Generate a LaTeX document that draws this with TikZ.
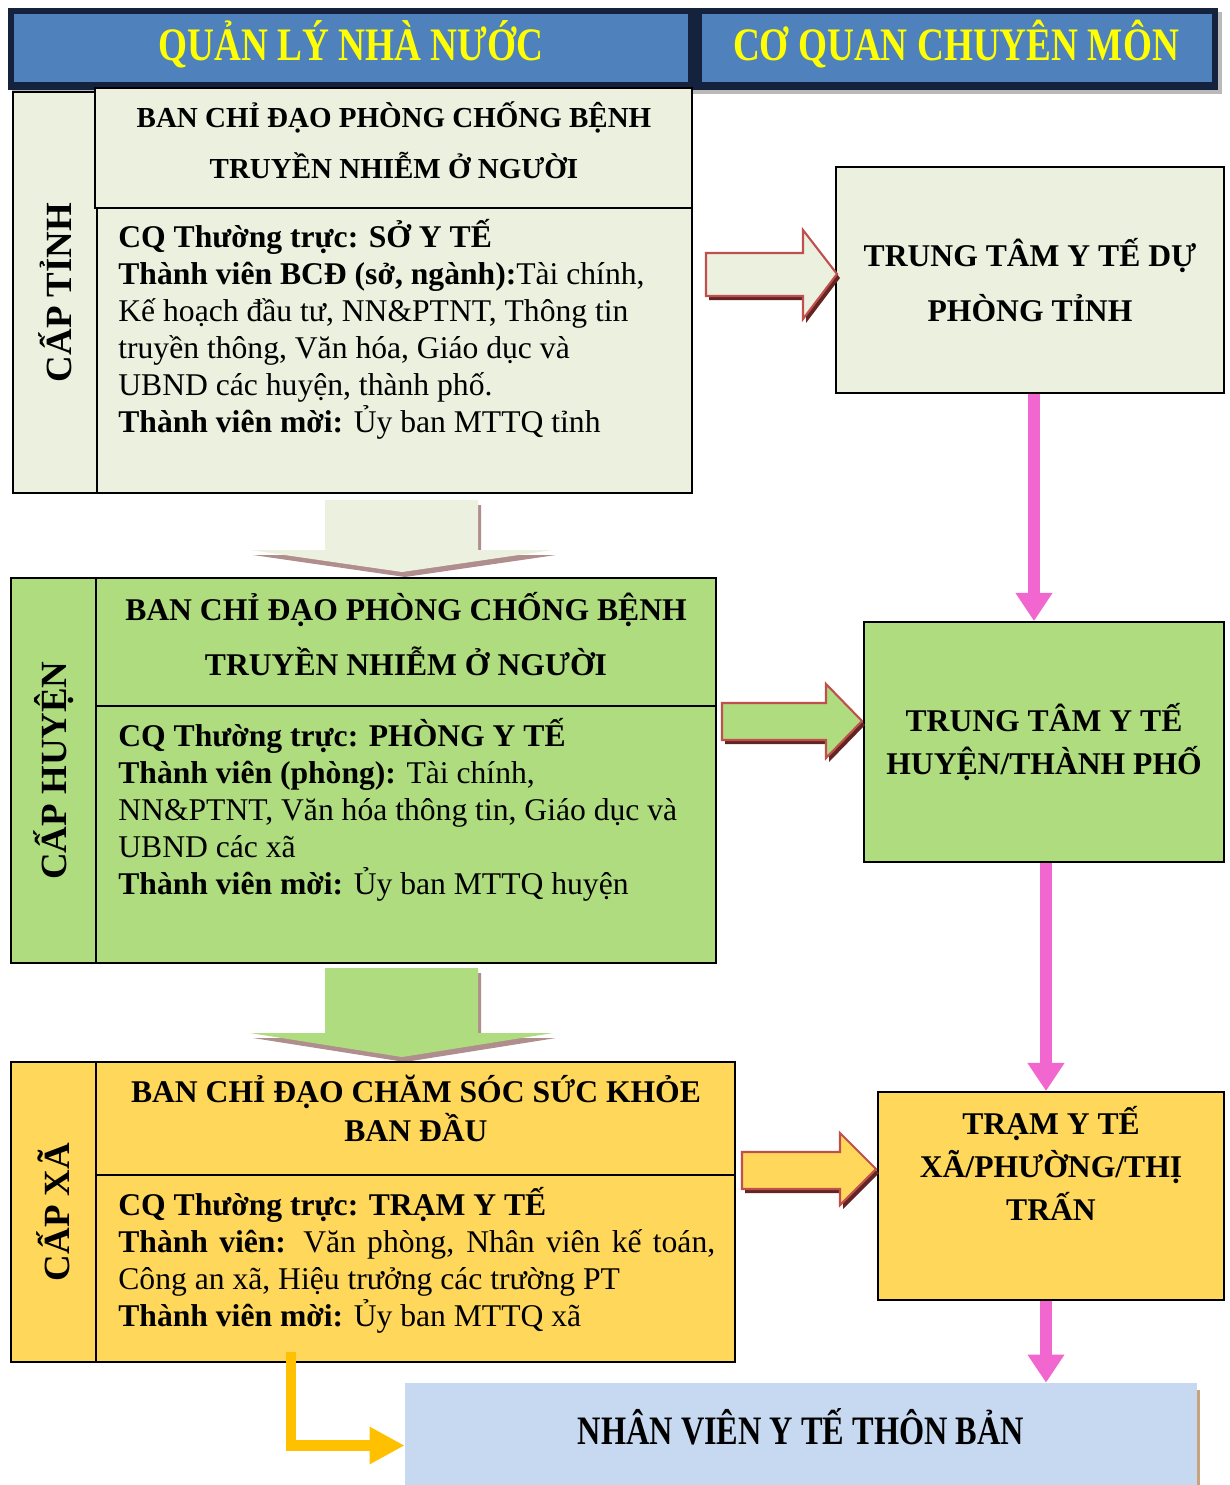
\documentclass[tikz,border=0pt]{standalone}
\usepackage{fontspec}
\setmainfont{Liberation Serif}
\usetikzlibrary{positioning,calc,arrows.meta}

\definecolor{navy}{HTML}{14223E}
\definecolor{hdblue}{HTML}{4F81BD}
\definecolor{hdyellow}{HTML}{FFFF00}
\definecolor{tinhgreen}{HTML}{EBF1DE}
\definecolor{huyengreen}{HTML}{AFDC7E}
\definecolor{xagold}{HTML}{FFD75B}
\definecolor{thonblue}{HTML}{C6D9F1}
\definecolor{pinkc}{HTML}{F266CF}
\definecolor{orangec}{HTML}{FFC000}
\definecolor{arrred}{HTML}{C0504D}
\definecolor{arrdark}{HTML}{632523}
\definecolor{downshadow}{HTML}{B08E8E}
\definecolor{tanshadow}{HTML}{C9A27E}

\newcommand{\narrow}[1]{\scalebox{0.8}[1]{#1}}

\begin{document}
\begin{tikzpicture}[
	x=0.02cm, y=-0.02cm,
	px/.style 2 args={minimum width=#1*0.02cm, minimum height=#2*0.02cm},
	box/.style={draw=black, line width=1.1pt, inner sep=0pt},
	lvl/.style={font=\bfseries\fontsize{21}{24}\selectfont, rotate=90, inner sep=0pt},
	ttl/.style 2 args={font=\bfseries\fontsize{#1}{#2}\selectfont, align=center, inner sep=0pt},
	body/.style={font=\fontsize{18}{21}\selectfont, align=left, anchor=north west, inner sep=0pt},
	unit/.style={font=\bfseries\fontsize{18}{#1}\selectfont, align=center, inner sep=0pt},
	head/.style={font=\bfseries\fontsize{26.5}{30}\selectfont, text=hdyellow, inner sep=0pt},
	blockarr/.style={draw=arrred, line width=1.2pt, line join=miter},
	pinkarr/.style={draw=pinkc, line width=6.8pt, -{Triangle[width=20pt,length=16pt]}},
	orangearr/.style={draw=orangec, line width=6.2pt, -{Triangle[width=20pt,length=20pt]}}
]
\useasboundingbox (0,0) rectangle (1230,1485);
\clip (0,0) rectangle (1230,1485);

% header
\fill[gray!55] (12,12) rectangle (1222,94);
\node[fill=navy, inner sep=0pt, px={1210}{82}] (hdbar) at (613,49) {};
\node[fill=hdblue, inner sep=0pt, px={674}{68}] (hdQL) at (351,48) {};
\node[fill=hdblue, inner sep=0pt, px={510}{68}] (hdCM) at (957,48) {};
\node[head] (hdQLtxt) at (351,44) {\narrow{QUẢN LÝ NHÀ NƯỚC}};
\node[head] (hdCMtxt) at (956,44) {\narrow{CƠ QUAN CHUYÊN MÔN}};

% cap tinh
\node[box, fill=tinhgreen, px={84}{401}] (lvT) at (55,292.5) {};
\node[lvl] (lvTtxt) at (lvT.center) {CẤP TỈNH};
\node[box, fill=tinhgreen, px={597}{120}] (banT) at (393.5,148) {};
\node[box, fill=tinhgreen, px={595}{285}] (cqT) at (394.5,350.5) {};
\node[ttl={16.5}{29}] (banTtxt) at (394,140) {BAN CHỈ ĐẠO PHÒNG CHỐNG BỆNH\\TRUYỀN NHIỄM Ở NGƯỜI};
\node[body] (cqTtxt) at (118,219) {\textbf{CQ Thường trực: SỞ Y TẾ}\\
	\textbf{Thành viên BCĐ (sở, ngành):}Tài chính,\\
	Kế hoạch đầu tư, NN\&PTNT, Thông tin\\
	truyền thông, Văn hóa, Giáo dục và\\
	UBND các huyện, thành phố.\\
	\textbf{Thành viên mời:} Ủy ban MTTQ tỉnh};
\node[box, fill=tinhgreen, px={388}{226}, unit=31] (ttT) at (1030,280) {TRUNG TÂM Y TẾ DỰ\\PHÒNG TỈNH};

% block arrows of cap tinh
\fill[arrdark] (709,257) -- (806,257) -- (806,234) -- (840,278) -- (806,323) -- (806,300) -- (709,300) -- cycle;
\filldraw[blockarr, fill=tinhgreen] (706,253) -- (803,253) -- (803,230) -- (837,274) -- (803,319) -- (803,296) -- (706,296) -- cycle;
\fill[downshadow] (328,505) -- (481,505) -- (481,555) -- (556,555) -- (405,577) -- (253,555) -- (328,555) -- cycle;
\fill[tinhgreen] (325,500) -- (478,500) -- (478,550) -- (553,550) -- (402,572) -- (250,550) -- (325,550) -- cycle;

% cap huyen
\node[box, fill=huyengreen, px={85}{385}] (lvH) at (53.5,770.5) {};
\node[lvl] (lvHtxt) at (lvH.center) {CẤP HUYỆN};
\node[box, fill=huyengreen, px={620}{128}] (banH) at (406,642) {};
\node[box, fill=huyengreen, px={620}{257}] (cqH) at (406,834.5) {};
\node[ttl={18}{31}] (banHtxt) at (406,634) {BAN CHỈ ĐẠO PHÒNG CHỐNG BỆNH\\TRUYỀN NHIỄM Ở NGƯỜI};
\node[body] (cqHtxt) at (118,718) {\textbf{CQ Thường trực: PHÒNG Y TẾ}\\
	\textbf{Thành viên (phòng):} Tài chính,\\
	NN\&PTNT, Văn hóa thông tin, Giáo dục và\\
	UBND các xã\\
	\textbf{Thành viên mời:} Ủy ban MTTQ huyện};
\node[box, fill=huyengreen, px={360}{240}, unit=24.5] (ttH) at (1044,742) {TRUNG TÂM Y TẾ\\HUYỆN/THÀNH PHỐ};

% block arrows of cap huyen
\fill[arrdark] (725,707) -- (829,707) -- (829,688) -- (865,725) -- (829,762) -- (829,744) -- (725,744) -- cycle;
\filldraw[blockarr, fill=huyengreen] (722,703) -- (826,703) -- (826,684) -- (862,721) -- (826,758) -- (826,740) -- (722,740) -- cycle;
\fill[downshadow] (328,973) -- (481,973) -- (481,1038) -- (556,1038) -- (405,1062) -- (253,1038) -- (328,1038) -- cycle;
\fill[huyengreen] (325,968) -- (478,968) -- (478,1033) -- (553,1033) -- (402,1057) -- (250,1033) -- (325,1033) -- cycle;

% cap xa
\node[box, fill=xagold, px={85}{300}] (lvX) at (53.5,1212) {};
\node[lvl] (lvXtxt) at (lvX.center) {CẤP XÃ};
\node[box, fill=xagold, px={639}{113}] (banX) at (415.5,1118.5) {};
\node[box, fill=xagold, px={639}{187}] (cqX) at (415.5,1268.5) {};
\node[ttl={18}{22}] (banXtxt) at (416,1108.5) {BAN CHỈ ĐẠO CHĂM SÓC SỨC KHỎE\\BAN ĐẦU};
\node[body] (cqXtxt) at (118,1187) {\textbf{CQ Thường trực: TRẠM Y TẾ}\\
	\makebox[11.94cm][s]{\textbf{Thành viên:} Văn phòng, Nhân viên kế toán,}\\
	Công an xã, Hiệu trưởng các trường PT\\
	\textbf{Thành viên mời:} Ủy ban MTTQ xã};
\node[box, fill=xagold, px={346}{208}] (ttX) at (1051,1196) {};
\node[unit=24.5] (ttXtxt) at (1051,1163) {TRẠM Y TẾ\\XÃ/PHƯỜNG/THỊ\\TRẤN};

% block arrow of cap xa
\fill[arrdark] (745,1156) -- (843,1156) -- (843,1137) -- (879,1173) -- (843,1209) -- (843,1193) -- (745,1193) -- cycle;
\filldraw[blockarr, fill=xagold] (742,1152) -- (840,1152) -- (840,1133) -- (876,1169) -- (840,1205) -- (840,1189) -- (742,1189) -- cycle;

% thon ban
\fill[tanshadow] (409,1390) rectangle (1200,1508);
\node[fill=thonblue, inner sep=0pt, px={792}{125}] (nv) at (801,1445.5) {};
\node[font=\bfseries\fontsize{23}{26}\selectfont, inner sep=0pt] (nvtxt) at (801,1427) {\narrow{NHÂN VIÊN Y TẾ THÔN BẢN}};

% connectors
\draw[pinkarr] ([xshift=0.08cm]ttT.south) -- ([xshift=0.08cm]ttT.south |- ttH.north);
\draw[pinkarr] ([xshift=0.04cm]ttH.south) -- ([xshift=0.04cm]ttH.south |- ttX.north);
\draw[pinkarr] ([xshift=-0.1cm]ttX.south) -- ([xshift=-0.1cm]ttX.south |- nv.north);
\coordinate (oStart) at (291,1352);
\draw[orangearr] (oStart) |- (nv.west);
\end{tikzpicture}
\end{document}
